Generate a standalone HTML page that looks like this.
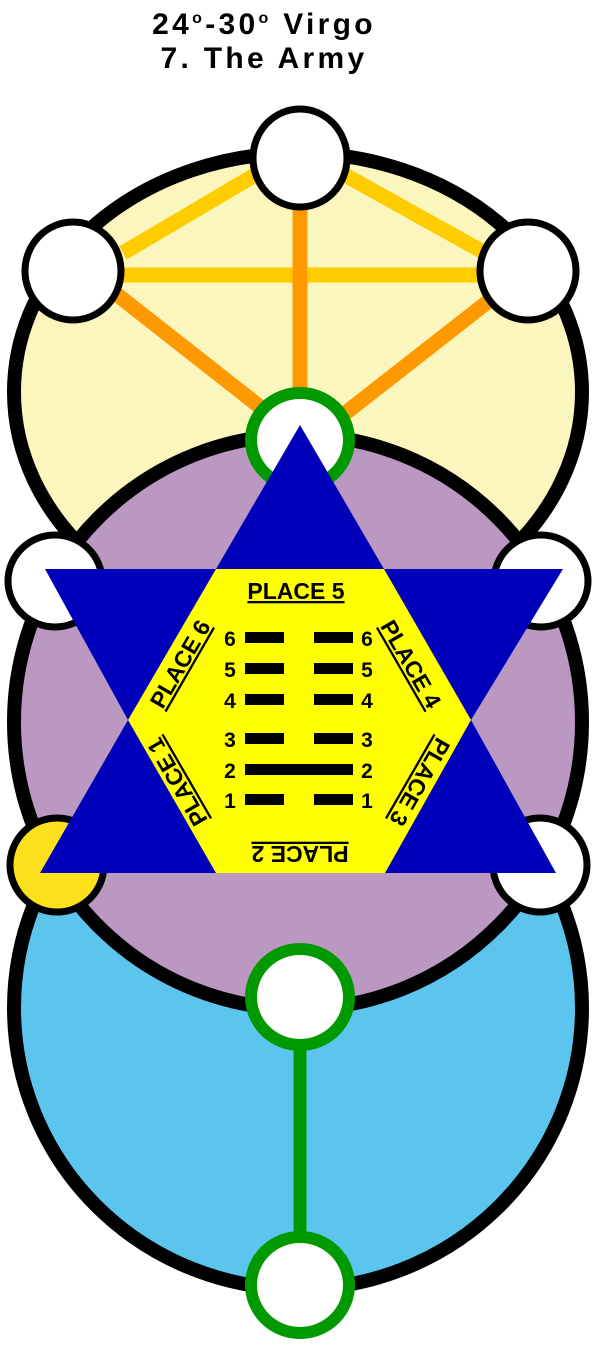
<!DOCTYPE html>
<html><head><meta charset="utf-8"><style>
html,body{margin:0;padding:0;background:#fff;}
svg{display:block;}
text{font-family:"Liberation Sans",Arial,sans-serif;font-weight:bold;}
</style></head><body>
<svg width="600" height="1346" viewBox="0 0 600 1346" xmlns="http://www.w3.org/2000/svg">
<text x="264" y="34" font-size="30" text-anchor="middle" letter-spacing="3.3">24<tspan font-size="16" dy="-11">o</tspan><tspan dy="11">-30</tspan><tspan font-size="16" dy="-11">o</tspan><tspan dy="11"> Virgo</tspan></text>
<text x="264" y="68" font-size="30" text-anchor="middle" letter-spacing="3.3">7. The Army</text>

<ellipse cx="298" cy="392" rx="284" ry="239" fill="#faf6bd" stroke="#000" stroke-width="14"/>
<ellipse cx="298" cy="1008" rx="284" ry="281" fill="#5bc5ee" stroke="#000" stroke-width="14"/>
<ellipse cx="298" cy="722" rx="284" ry="287" fill="#bb98c2" stroke="#000" stroke-width="14"/>

<g stroke-width="15" stroke-linecap="butt">
<line x1="123" y1="253" x2="255" y2="175" stroke="#ffcc00"/>
<line x1="345" y1="175" x2="485" y2="253" stroke="#ffcc00"/>
<line x1="120" y1="275" x2="482" y2="275" stroke="#ffcc00"/>
<line x1="300" y1="205" x2="300" y2="395" stroke="#ff9900"/>
<line x1="115" y1="293" x2="264" y2="410" stroke="#ff9900"/>
<line x1="490" y1="300" x2="343" y2="415" stroke="#ff9900"/>
<line x1="300" y1="1000" x2="300" y2="1285" stroke="#009900" stroke-width="13"/>
</g>

<g stroke-width="7" stroke="#000">
<ellipse cx="300" cy="158" rx="47" ry="49" fill="#fff"/>
<ellipse cx="73" cy="271" rx="48" ry="49" fill="#fff"/>
<ellipse cx="528" cy="271" rx="48" ry="49" fill="#fff"/>
<ellipse cx="55" cy="581" rx="47" ry="46" fill="#fff"/>
<ellipse cx="541" cy="581" rx="47" ry="46" fill="#fff"/>
<ellipse cx="57" cy="865" rx="47" ry="47" fill="#fde01c"/>
<ellipse cx="540" cy="865" rx="47" ry="47" fill="#fff"/>
</g>
<g stroke-width="12" stroke="#009900" fill="#fff">
<ellipse cx="300" cy="440" rx="49" ry="47"/>
<ellipse cx="300" cy="997" rx="49" ry="48"/>
<ellipse cx="300" cy="1285" rx="49" ry="48"/>
</g>

<polygon points="300,425 384,569 563,569 471,720 556,873 40,873 128,720 45,569 216,569" fill="#0000bb"/>
<polygon points="216,569 384,569 471,720 385,873 216,873 128,720" fill="#ffff00"/>

<g fill="#000">
<rect x="245" y="632" width="39" height="11"/><rect x="314" y="632" width="39" height="11"/>
<rect x="245" y="663" width="39" height="11"/><rect x="314" y="663" width="39" height="11"/>
<rect x="245" y="694" width="39" height="11"/><rect x="314" y="694" width="39" height="11"/>
<rect x="245" y="733" width="39" height="11"/><rect x="314" y="733" width="39" height="11"/>
<rect x="245" y="764" width="108" height="11"/>
<rect x="245" y="794" width="39" height="11"/><rect x="314" y="794" width="39" height="11"/>
</g>
<g font-size="21" text-anchor="middle">
<text x="230" y="646">6</text><text x="367" y="646">6</text>
<text x="230" y="677">5</text><text x="367" y="677">5</text>
<text x="230" y="708">4</text><text x="367" y="708">4</text>
<text x="230" y="747">3</text><text x="367" y="747">3</text>
<text x="230" y="778">2</text><text x="367" y="778">2</text>
<text x="230" y="808">1</text><text x="367" y="808">1</text>
</g>
<g font-size="23" text-anchor="middle" text-decoration="underline">
<text x="296" y="599">PLACE 5</text>
<text transform="translate(187,668) rotate(-60)">PLACE 6</text>
<text transform="translate(404,668) rotate(60)">PLACE 4</text>
<text transform="translate(184,778) rotate(-120)">PLACE 1</text>
<text transform="translate(413,778) rotate(120)">PLACE 3</text>
<text transform="translate(300,846) rotate(180)">PLACE 2</text>
</g>
</svg>
</body></html>
